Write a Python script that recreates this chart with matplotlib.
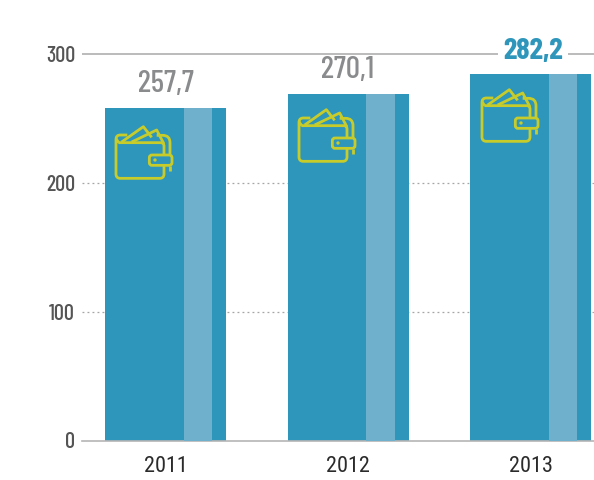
import numpy as np
from matplotlib import pyplot as plt
from matplotlib import patches, transforms
from matplotlib.path import Path

plt.rcParams['font.family'] = ['Barlow Condensed', 'Roboto', 'DejaVu Sans']

years = ['2011', '2012', '2013']
bar_tops = [258.0, 269.0, 284.5]
value_labels = ['257,7', '270,1', '282,2']
y_ticks = [0, 100, 200, 300]

BLUE = '#2e96bb'
LIGHT = '#6fb0cd'
YELLOW = '#c8cc2a'
GREY = '#8a8b8d'

fig = plt.figure(figsize=(5.94, 4.8), dpi=100)
ax = fig.add_axes([82 / 594, 39.5 / 480, 512 / 594, 386.5 / 480])
ax.set_xlim(-0.458, 2.348)
ax.set_ylim(0, 300)

x = np.arange(len(years))
ax.bar(x, bar_tops, width=0.663, color=BLUE, zorder=2)
# paler stripe towards the right of each bar
ax.bar(x + 0.178, bar_tops, width=0.158, color=LIGHT, zorder=3)

for val in y_ticks[1:-1]:
    ax.axhline(val, color='#a5a5a5', lw=0.9, ls=(0, (1.5, 2.5)), zorder=1)
# top rule stops either side of the last label
ax.hlines([300, 300], [-0.458, 2.205], [1.822, 2.348], color='#a8a8a8', lw=1.1, zorder=1, clip_on=False)

for side in ['top', 'left', 'right']:
    ax.spines[side].set_visible(False)
ax.spines['bottom'].set_color('#b5b5b5')
ax.spines['bottom'].set_linewidth(1.2)

ax.set_yticks(y_ticks)
ax.set_xticks(x, years)
ax.tick_params(axis='y', length=0, pad=5, labelsize=16, labelcolor='#555555')
ax.tick_params(axis='x', length=0, pad=11, labelsize=16, labelcolor='#2b2b2b')
for tick in ax.get_yticklabels():
    tick.set_fontweight('medium')
for tick in ax.get_xticklabels():
    tick.set_family(['Roboto Condensed', 'Roboto', 'DejaVu Sans'])

for i, label in enumerate(value_labels):
    if i == 2:
        ax.annotate(
            label, (x[i], 300), xytext=(2, 2), textcoords='offset points',
            ha='center', va='center',
            fontsize=22, fontweight='bold', color=BLUE, zorder=4,
        )
    else:
        ax.annotate(
            label, (x[i], bar_tops[i]), xytext=(0, 7),
            textcoords='offset points', ha='center', va='bottom',
            fontsize=22.5, fontweight='medium', color=GREY,
        )


def rounded(pts, r=13):
    """Path through pts with its inner corners rounded off."""
    pts = [np.array(p, dtype=float) for p in pts]
    verts, codes = [pts[0]], [Path.MOVETO]
    for prev, cur, nxt in zip(pts, pts[1:], pts[2:]):
        a = cur + (prev - cur) / np.linalg.norm(prev - cur) * r
        b = cur + (nxt - cur) / np.linalg.norm(nxt - cur) * r
        verts += [a, cur, b]
        codes += [Path.LINETO, Path.CURVE3, Path.CURVE3]
    verts.append(pts[-1])
    codes.append(Path.LINETO)
    return Path(verts, codes)


# wallet icon, in zoomed picture units (3 per pixel, y down)
wallet_paths = [
    Path([(95, 246), (160, 200), (185, 232)]),
    Path([(125, 246), (200, 210), (222, 252)]),
    rounded([(85, 248), (222, 248), (222, 283)], 10),
    rounded([(112, 225), (78, 225), (78, 355), (222, 355), (222, 318)]),
    rounded([(200, 226), (240, 226), (240, 283)], 22),
    Path([(240, 318), (240, 332)]),
    Path([(78, 236), (86, 248)]),
]
to_pixels = transforms.Affine2D().scale(1, -1).translate(0, 480)
wallet_origins = [(90, 60), (273, 43), (456, 23)]


def draw_wallet(origin):
    trans = (
        transforms.Affine2D().scale(1 / 3).translate(*origin)
        + to_pixels
    )
    for path in wallet_paths:
        fig.add_artist(patches.PathPatch(
            path, fc='none', ec=YELLOW, lw=2.0, transform=trans,
            capstyle='butt', joinstyle='round', zorder=5,
        ))
    fig.add_artist(patches.FancyBboxPatch(
        (178, 285), 68, 31, boxstyle='round,pad=0,rounding_size=8',
        fc=BLUE, ec=YELLOW, lw=2.0, transform=trans, zorder=5,
    ))
    fig.add_artist(patches.Circle(
        (195, 300), 5, fc=YELLOW, ec='none', transform=trans, zorder=5,
    ))


for origin in wallet_origins:
    draw_wallet(origin)

fig.savefig('out.png', dpi=100)
